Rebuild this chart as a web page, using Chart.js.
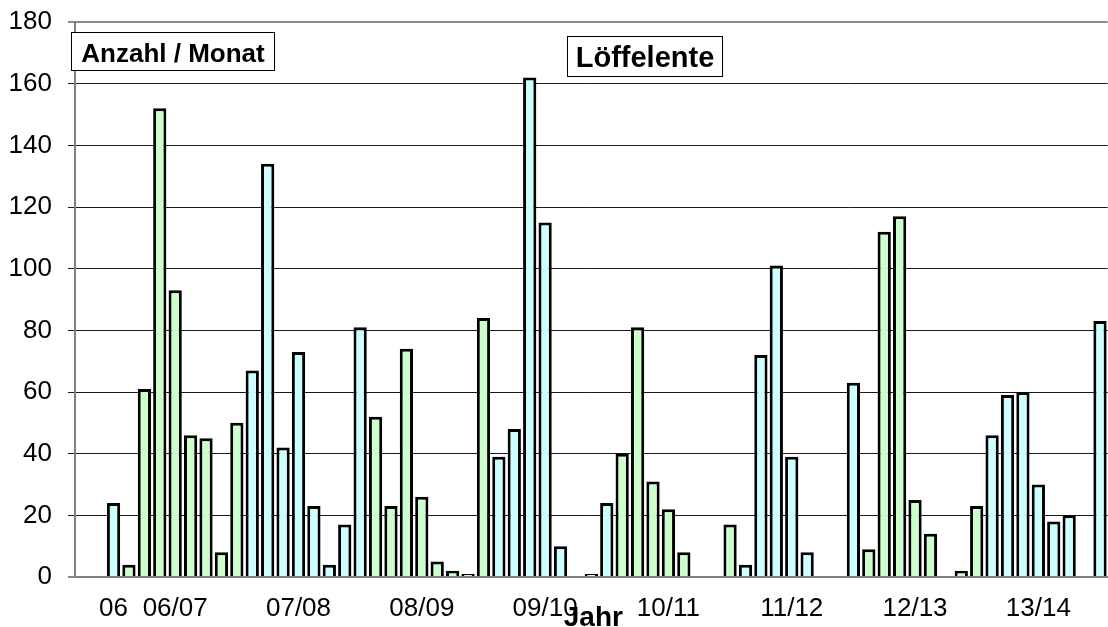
<!DOCTYPE html>
<html>
<head>
<meta charset="utf-8">
<script src="https://cdn.jsdelivr.net/npm/chart.js@4.4.1/dist/chart.umd.min.js"></script>
<style>
  html, body { margin: 0; padding: 0; overflow: hidden; background: #fff; }
  #wrap { width: 1116px; height: 627px; }
</style>
</head>
<body>
<div id="wrap"><canvas id="chart"></canvas></div>
<script>
// Löffelente - counts per month, 8 months per season, one slot per month

const seasons = ['06', '06/07', '07/08', '08/09', '09/10', '10/11', '11/12', '12/13', '13/14'];
const seasonSlots = [2, 6, 14, 22, 30, 38, 46, 54, 62];

const counts = [
  null, null, 24, 4, 61, 152, 93, 46, 45, 8,
  50, 67, 134, 42, 73, 23, 4, 17, 81, 52,
  23, 74, 26, 5, 2, 1, 84, 39, 48, 162,
  115, 10, null, 1, 24, 40, 81, 31, 22, 8,
  null, null, 17, 4, 72, 101, 39, 8, null, null,
  63, 9, 112, 117, 25, 14, null, 2, 23, 46,
  59, 60, 30, 18, 20, null, 83
];

const yTicks = [0, 20, 40, 60, 80, 100, 120, 140, 160, 180];

// month slots get an empty label, season start slots get the season name
const labels = counts.map(function () { return ''; });
seasonSlots.forEach(function (slot, i) {
  labels[slot] = seasons[i];
});

const FONT = "'Liberation Sans', Arial, sans-serif";
const seasonColors = ['#CCFFFF', '#CCFFCC'];

function barColor(ctx) {
  // colours swap every season (blocks of 8 months)
  return seasonColors[Math.floor((ctx.dataIndex + 5) / 8) % 2];
}

function labelBox(ctx, text, x, y, w, h, font, baseline) {
  ctx.fillStyle = '#fff';
  ctx.fillRect(x, y, w, h);
  ctx.strokeStyle = '#000';
  ctx.lineWidth = 1;
  ctx.strokeRect(x + 0.5, y + 0.5, w - 1, h - 1);
  ctx.fillStyle = '#000';
  ctx.font = font;
  ctx.textAlign = 'center';
  ctx.textBaseline = 'alphabetic';
  ctx.fillText(text, x + w / 2, baseline);
}

const extras = {
  id: 'extras',
  afterDraw(chart) {
    const ctx = chart.ctx;
    const area = chart.chartArea;
    ctx.save();
    labelBox(ctx, 'Anzahl / Monat', area.left - 4, 32, 204, 39, 'bold 26px ' + FONT, 62);
    labelBox(ctx, 'Löffelente', 567, 36, 156, 41, 'bold 29px ' + FONT, 67);
    ctx.fillStyle = '#000';
    ctx.font = 'bold 28px ' + FONT;
    ctx.textAlign = 'center';
    ctx.textBaseline = 'alphabetic';
    ctx.fillText('Jahr', (area.left + area.right) / 2 + 2, 626);
    ctx.restore();
  }
};

const data = {
  labels: labels,
  datasets: [{
    label: 'Löffelente',
    data: counts,
    backgroundColor: barColor,
    borderColor: '#000',
    borderWidth: 3,
    barPercentage: 0.86,
    categoryPercentage: 1.0
  }]
};

const config = {
  type: 'bar',
  data,
  options: {
    responsive: true,
    maintainAspectRatio: false,
    animation: false,
    layout: { padding: { top: 22, right: 0, left: 0, bottom: 0 } },
    plugins: {
      legend: { display: false },
      tooltip: { enabled: false }
    },
    scales: {
      x: {
        grid: { display: false, drawTicks: false },
        border: { display: true, color: '#808080', width: 2 },
        ticks: {
          autoSkip: false,
          maxRotation: 0,
          minRotation: 0,
          padding: 16,
          color: '#000',
          font: { family: FONT, size: 26 }
        },
        afterFit(scale) { scale.height = 50; }
      },
      y: {
        min: 0,
        max: 180,
        afterBuildTicks(scale) {
          scale.ticks = yTicks.map(function (v) { return { value: v }; });
        },
        grid: {
          color: function (ctx) {
            const v = ctx.tick ? ctx.tick.value : null;
            return (v === 180 || v === 0) ? '#8a8a8a' : '#1a1a1a';
          },
          lineWidth: function (ctx) {
            const v = ctx.tick ? ctx.tick.value : null;
            return (v === 180 || v === 0) ? 2 : 1;
          },
          tickLength: 7
        },
        border: { display: true, color: '#808080', width: 2 },
        ticks: {
          padding: 16,
          color: '#000',
          // small line height so the top label does not push the plot down
          font: { family: FONT, size: 26, lineHeight: 0.4 }
        },
        afterFit(scale) { scale.width = 75; }
      }
    }
  },
  plugins: [extras]
};

const barChart = new Chart(document.getElementById('chart'), config);
</script>
</body>
</html>
